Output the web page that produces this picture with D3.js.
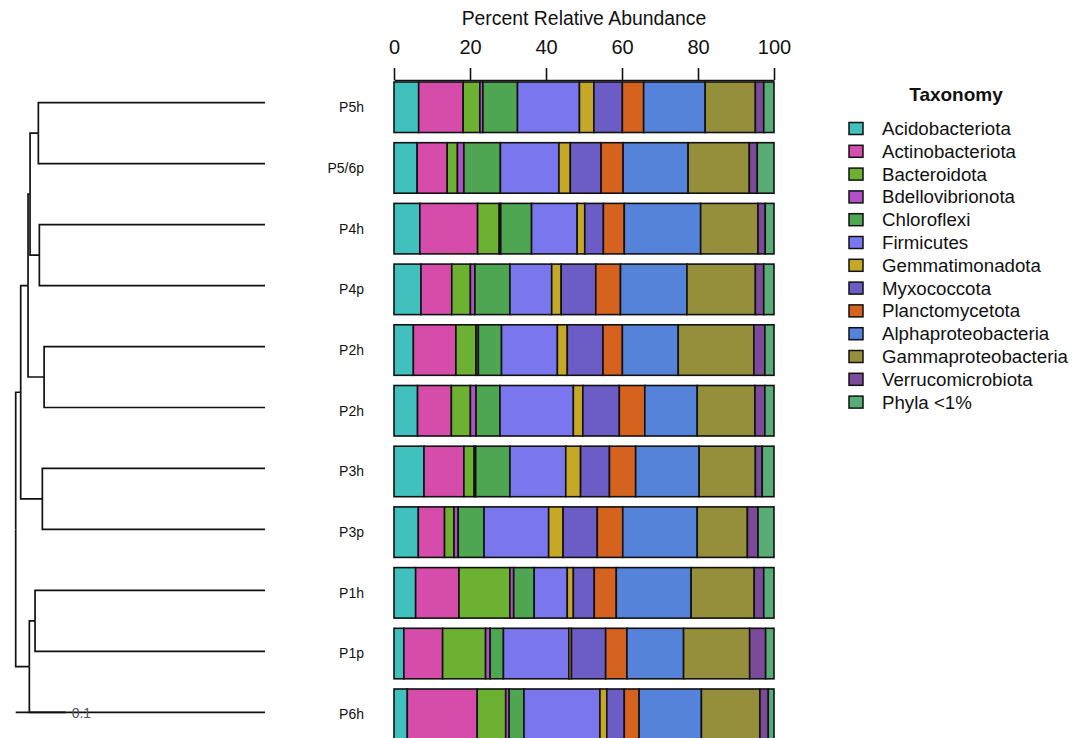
<!DOCTYPE html>
<html>
<head>
<meta charset="utf-8">
<script src="https://cdn.jsdelivr.net/npm/d3@7"></script>
<style>
  html, body { margin: 0; padding: 0; background: #fff; }
  svg { display: block; font-family: "Liberation Sans", Arial, Helvetica, sans-serif; }
</style>
</head>
<body>
<svg id="chart" width="1086" height="738"></svg>
<script>
// Samples, top to bottom (order of the dendrogram leaves)
const samples = ["P5h", "P5/6p", "P4h", "P4p", "P2h", "P2h ", "P3h", "P3p", "P1h", "P1p", "P6h"];

// Taxa in stacking order
const taxa = [
  "Acidobacteriota", "Actinobacteriota", "Bacteroidota", "Bdellovibrionota",
  "Chloroflexi", "Firmicutes", "Gemmatimonadota", "Myxococcota",
  "Planctomycetota", "Alphaproteobacteria", "Gammaproteobacteria",
  "Verrucomicrobiota", "Phyla <1%"
];

const taxaColors = [
  "#40c1be", "#d64cab", "#6cb132", "#b24fc9",
  "#4ea552", "#7a77ee", "#c6a829", "#6b5cc6",
  "#d5621f", "#5683da", "#958f3c", "#7c4a9a", "#58ad77"
];

// Percent relative abundance per sample, one value per taxon (same order as taxa)
const abundP5h  = [6.5, 11.7, 4.4, 0.8, 9.1, 16.3, 3.8, 7.5, 5.6, 16.2, 13.2, 2.2, 2.7];
const abundP56p = [6.1, 7.9, 2.7, 1.7, 9.6, 15.4, 3.0, 8.1, 5.8, 17.1, 16.1, 2.1, 4.4];
const abundP4h  = [6.8, 15.2, 5.7, 0.4, 8.1, 12.0, 2.0, 4.9, 5.5, 20.1, 15.1, 1.9, 2.3];
const abundP4p  = [7.1, 8.1, 4.9, 1.2, 9.2, 11.0, 2.5, 9.1, 6.5, 17.5, 18.0, 2.2, 2.7];
const abundP2hA = [5.1, 11.2, 5.3, 0.6, 6.1, 14.7, 2.6, 9.4, 5.1, 14.7, 19.9, 2.9, 2.4];
const abundP2hB = [6.2, 8.9, 5.0, 1.5, 6.3, 19.3, 2.5, 9.6, 6.7, 13.8, 15.2, 2.6, 2.4];
const abundP3h  = [7.9, 10.5, 2.7, 0.4, 9.0, 14.7, 3.9, 7.6, 6.9, 16.7, 14.8, 1.8, 3.1];
const abundP3p  = [6.4, 6.9, 2.5, 1.1, 6.8, 17.0, 3.8, 9.0, 6.7, 19.6, 13.2, 2.8, 4.2];
const abundP1h  = [5.7, 11.4, 13.4, 1.0, 5.4, 8.7, 1.6, 5.5, 5.8, 19.7, 16.6, 2.5, 2.7];
const abundP1p  = [2.6, 10.2, 11.3, 1.2, 3.5, 17.2, 0.7, 9.0, 5.6, 14.9, 17.4, 4.2, 2.2];
const abundP6h  = [3.5, 18.4, 7.5, 0.9, 3.9, 20.0, 1.8, 4.6, 3.9, 16.4, 15.4, 2.2, 1.5];

const abundances = [abundP5h, abundP56p, abundP4h, abundP4p, abundP2hA, abundP2hB,
                    abundP3h, abundP3p, abundP1h, abundP1p, abundP6h];

const xTicks = [0, 20, 40, 60, 80, 100];

// Dendrogram: node heights measured from the leaves (tree distance units)
const tree = {
  h: 0.4986, children: [
    { h: 0.4886, children: [
      { h: 0.4739, children: [
        { h: 0.4699, children: [
          { h: 0.4533, children: [{ leaf: 0 }, { leaf: 1 }] },
          { h: 0.4513, children: [{ leaf: 2 }, { leaf: 3 }] }
        ]},
        { h: 0.4418, children: [{ leaf: 4 }, { leaf: 5 }] }
      ]},
      { h: 0.4453, children: [{ leaf: 6 }, { leaf: 7 }] }
    ]},
    { h: 0.4713, children: [
      { h: 0.4599, children: [{ leaf: 8 }, { leaf: 9 }] },
      { leaf: 10 }
    ]}
  ]
};
const scaleBarLength = 0.1;

// ---------------------------------------------------------------
const svg = d3.select("#chart");

// Stacked bars
const x = d3.scaleLinear().domain([0, 100]).range([394, 774]);
const y = d3.scaleBand().domain(samples).range([82, 739.5]).paddingInner(0.168).paddingOuter(0);
const color = d3.scaleOrdinal().domain(taxa).range(taxaColors);

const table = samples.map((s, i) => {
  const row = { sample: s };
  taxa.forEach((t, j) => row[t] = abundances[i][j]);
  return row;
});
const series = d3.stack().keys(taxa)(table);

const barsG = svg.append("g").attr("class", "bars");
barsG.selectAll("g.layer")
  .data(series)
  .join("g")
  .attr("class", "layer")
  .attr("fill", d => color(d.key))
  .selectAll("rect")
  .data(d => d)
  .join("rect")
  .attr("x", d => x(d[0]))
  .attr("width", d => x(d[1]) - x(d[0]))
  .attr("y", d => y(d.data.sample))
  .attr("height", y.bandwidth())
  .attr("stroke", "#111")
  .attr("stroke-width", 1.6);

// Top axis
const axisG = svg.append("g")
  .attr("transform", "translate(0,80)")
  .call(d3.axisTop(x).tickValues(xTicks).tickSize(12).tickSizeOuter(0).tickPadding(14));
axisG.select(".domain").attr("stroke", "#111").attr("stroke-width", 1.6);
axisG.selectAll(".tick line").attr("stroke", "#111").attr("stroke-width", 1.6);
axisG.selectAll(".tick text")
  .attr("font-family", "'Liberation Sans', Arial, sans-serif")
  .attr("font-size", 20).attr("fill", "#111");

svg.append("text")
  .attr("x", (x(0) + x(100)) / 2)
  .attr("y", 25)
  .attr("text-anchor", "middle")
  .attr("font-size", 19.4)
  .attr("fill", "#111")
  .text("Percent Relative Abundance");

// Sample labels
svg.append("g").selectAll("text")
  .data(samples)
  .join("text")
  .attr("x", 364)
  .attr("y", d => y(d) + y.bandwidth() / 2)
  .attr("dy", "0.35em")
  .attr("text-anchor", "end")
  .attr("font-size", 14)
  .attr("fill", "#111")
  .text(d => d.trim());

// Dendrogram
const root = d3.hierarchy(tree);
const leafY = d3.scalePoint().domain(d3.range(samples.length)).range([102.7, 712.3]);
const dx = d3.scaleLinear().domain([0.4986, 0]).range([15.7, 265]);

root.eachAfter(n => {
  n.px = dx(n.data.leaf !== undefined ? 0 : n.data.h);
  if (n.data.leaf !== undefined) n.py = leafY(n.data.leaf);
  else n.py = (n.children[0].py + n.children[n.children.length - 1].py) / 2;
});

const treeG = svg.append("g").attr("fill", "none").attr("stroke", "#111").attr("stroke-width", 1.7);
root.descendants().filter(n => n.parent).forEach(n => {
  treeG.append("path")
    .attr("d", `M${n.parent.px},${n.parent.py}V${n.py}H${n.px}`);
});

// Scale bar
svg.append("line")
  .attr("x1", dx(0.4986)).attr("x2", dx(0.4986 - scaleBarLength))
  .attr("y1", leafY(10)).attr("y2", leafY(10))
  .attr("stroke", "#111").attr("stroke-width", 1.7);
svg.append("text")
  .attr("x", dx(0.4986 - scaleBarLength) + 6)
  .attr("y", leafY(10) + 1)
  .attr("dy", "0.35em")
  .attr("font-size", 14)
  .attr("fill", "#555")
  .text(String(scaleBarLength));

// Legend
const legend = svg.append("g").attr("transform", "translate(848,0)");
legend.append("text")
  .attr("x", 108).attr("y", 101)
  .attr("text-anchor", "middle")
  .attr("font-size", 19).attr("font-weight", "bold")
  .attr("fill", "#111")
  .text("Taxonomy");
const rows = legend.selectAll("g.item")
  .data(taxa)
  .join("g")
  .attr("class", "item")
  .attr("transform", (d, i) => `translate(0,${128.5 + i * 22.8})`);
rows.append("rect")
  .attr("x", 1).attr("y", -6).attr("width", 14).attr("height", 12)
  .attr("fill", d => color(d))
  .attr("stroke", "#111").attr("stroke-width", 1.5);
rows.append("text")
  .attr("x", 34).attr("dy", "0.35em")
  .attr("font-size", 18.7).attr("fill", "#111")
  .text(d => d);
</script>
</body>
</html>
